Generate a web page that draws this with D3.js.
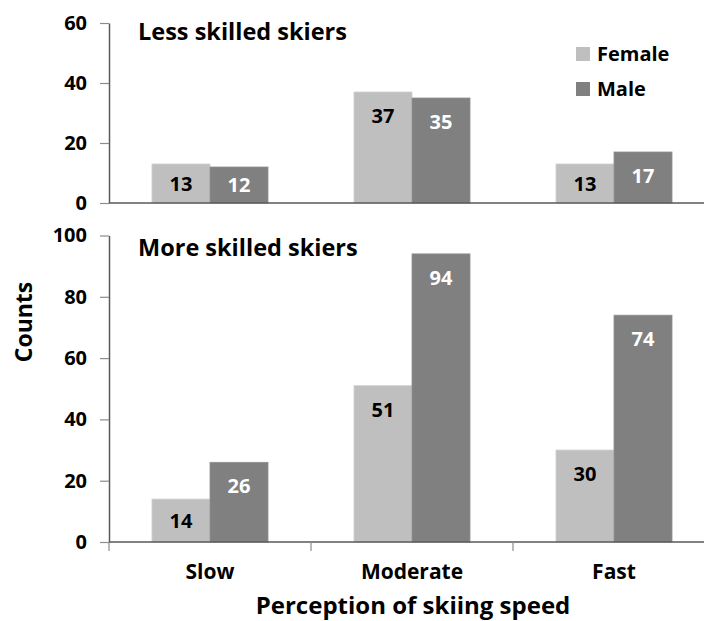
<!DOCTYPE html>
<html>
<head>
<meta charset="utf-8">
<script src="https://cdn.jsdelivr.net/npm/d3@7"></script>
<style>
  body { margin: 0; background: #fff; }
  svg { display: block; font-family: "Open Sans", sans-serif; }
</style>
</head>
<body>
<div id="chart"></div>
<script>
var categories = ["Slow", "Moderate", "Fast"];
var series = ["Female", "Male"];
var lessFemale = [13, 37, 13];
var lessMale = [12, 35, 17];
var moreFemale = [14, 51, 30];
var moreMale = [26, 94, 74];
var lessTicks = [0, 20, 40, 60];
var moreTicks = [0, 20, 40, 60, 80, 100];

var svgWidth = 704;
var svgHeight = 621;
var colors = { Female: "#bfbfbf", Male: "#808080" };
var labelColors = { Female: "#000", Male: "#fff" };

var svg = d3.select("#chart")
            .append("svg")
            .attr("width", svgWidth)
            .attr("height", svgHeight);

var axisX = 109;
var x0 = d3.scaleBand().domain(categories).range([axisX, axisX + 606]).padding(0);
var x1 = d3.scaleBand().domain(series).range([0, x0.bandwidth()])
           .paddingInner(0).paddingOuter(0.741);

var panels = [
  { title: "Less skilled skiers", female: lessFemale, male: lessMale, ticks: lessTicks,
    y: d3.scaleLinear().domain([0, 60]).range([203, 23]), titleY: 40, catTicks: false },
  { title: "More skilled skiers", female: moreFemale, male: moreMale, ticks: moreTicks,
    y: d3.scaleLinear().domain([0, 100]).range([542, 235.5]), titleY: 256, catTicks: true }
];

panels.forEach(function(p) {
  var g = svg.append("g");
  var y = p.y;
  var base = y(0);

  // y axis
  var yAxis = g.append("g")
               .attr("transform", `translate(${axisX},0)`)
               .call(d3.axisLeft(y).tickValues(p.ticks).tickSize(9).tickSizeOuter(0).tickPadding(13));
  yAxis.select(".domain").attr("stroke", "#595959").attr("stroke-width", 1.5);
  yAxis.selectAll(".tick line").attr("stroke", "#8c8c8c").attr("stroke-width", 1.2);
  yAxis.selectAll(".tick text")
       .attr("font-size", "20px")
       .attr("font-weight", "bold")
       .attr("fill", "#000")
       .attr("font-family", "Open Sans, sans-serif");

  // bars
  var rows = [];
  categories.forEach(function(c, i) {
    rows.push({ cat: c, s: "Female", v: p.female[i] });
    rows.push({ cat: c, s: "Male", v: p.male[i] });
  });

  g.selectAll("rect.bar")
   .data(rows)
   .enter()
   .append("rect")
   .attr("class", "bar")
   .attr("x", d => x0(d.cat) + x1(d.s))
   .attr("y", d => y(d.v))
   .attr("width", x1.bandwidth())
   .attr("height", d => base - y(d.v))
   .attr("fill", d => colors[d.s])
   .attr("stroke", d => d.s === "Female" ? "#d0d0d0" : "#909090")
   .attr("stroke-width", 0.8);

  g.selectAll("text.val")
   .data(rows)
   .enter()
   .append("text")
   .attr("class", "val")
   .attr("x", d => x0(d.cat) + x1(d.s) + x1.bandwidth() / 2)
   .attr("y", d => Math.min(y(d.v) + 24, (y(d.v) + base) / 2))
   .attr("dy", "0.35em")
   .attr("text-anchor", "middle")
   .attr("font-size", "20px")
   .attr("font-weight", "bold")
   .attr("fill", d => labelColors[d.s])
   .text(d => d.v);

  // x baseline
  g.append("line")
   .attr("x1", axisX).attr("x2", axisX + 606)
   .attr("y1", base).attr("y2", base)
   .attr("stroke", "#595959").attr("stroke-width", 1.5);

  if (p.catTicks) {
    g.selectAll("line.cat")
     .data(categories)
     .enter()
     .append("line")
     .attr("class", "cat")
     .attr("x1", d => x0(d)).attr("x2", d => x0(d))
     .attr("y1", base).attr("y2", base + 9)
     .attr("stroke", "#8c8c8c").attr("stroke-width", 1.2);
  }

  g.append("text")
   .attr("x", 138)
   .attr("y", p.titleY)
   .attr("font-size", "23.5px")
   .attr("font-weight", "bold")
   .attr("fill", "#000")
   .text(p.title);
});

// category labels
svg.selectAll("text.catlabel")
   .data(categories)
   .enter()
   .append("text")
   .attr("class", "catlabel")
   .attr("x", d => x0(d) + x0.bandwidth() / 2)
   .attr("y", 579)
   .attr("text-anchor", "middle")
   .attr("font-size", "21px")
   .attr("font-weight", "bold")
   .text(d => d);

// axis titles
svg.append("text")
   .attr("x", 413)
   .attr("y", 614)
   .attr("text-anchor", "middle")
   .attr("font-size", "24px")
   .attr("font-weight", "bold")
   .text("Perception of skiing speed");

svg.append("text")
   .attr("transform", "translate(32,322) rotate(-90)")
   .attr("text-anchor", "middle")
   .attr("font-size", "23px")
   .attr("font-weight", "bold")
   .text("Counts");

// legend
var legend = svg.append("g").attr("transform", "translate(576,47)");
series.forEach(function(s, i) {
  legend.append("rect")
        .attr("x", 0).attr("y", i * 35)
        .attr("width", 14).attr("height", 14)
        .attr("fill", colors[s]);
  legend.append("text")
        .attr("x", 21).attr("y", i * 35 + 7)
        .attr("dy", "0.36em")
        .attr("font-size", "20px")
        .attr("font-weight", "bold")
        .text(s);
});
</script>
</body>
</html>
